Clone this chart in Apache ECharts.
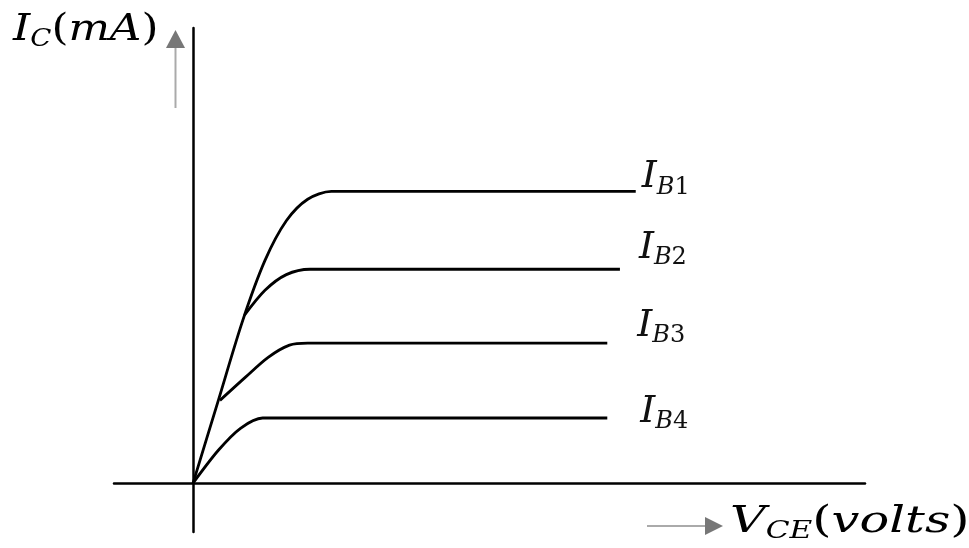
<!DOCTYPE html>
<html>
<head>
<meta charset="utf-8">
<script src="https://cdn.jsdelivr.net/npm/echarts@6/dist/echarts.min.js"></script>
<style>
  html, body { margin: 0; background: #fff; }
  #chart { width: 969px; height: 548px; }
</style>
</head>
<body>
<div id="chart"></div>
<script>
// output characteristics, points as [V_CE, I_C] (arbitrary units)
const ib1 = [[0, 0], [0.32, 1.69], [0.63, 3.33], [0.91, 4.55], [1.18, 5.36], [1.45, 5.80], [1.75, 5.96], [5.6, 5.96]];
const ib2 = [[0.65, 3.43], [0.91, 3.94], [1.18, 4.26], [1.48, 4.37], [5.4, 4.37]];
const ib3 = [[0.34, 1.69], [0.66, 2.16], [0.95, 2.57], [1.22, 2.82], [1.45, 2.86], [5.24, 2.86]];
const ib4 = [[0, 0], [0.32, 0.67], [0.60, 1.12], [0.88, 1.33], [5.24, 1.33]];
const curves = [ib1, ib2, ib3, ib4];
const subs = ['B', 'B', 'B', 'B'];
const nums = ['1', '2', '3', '4'];

// label nudges so the names sit like in the drawing
const labelOffsets = [[-2, -14], [11, -21], [22, -17], [25, -6]];

const font = 'DejaVu Serif';
const rich = {
  i: { fontFamily: font, fontStyle: 'italic', fontSize: 38, lineHeight: 44, color: '#111' },
  p: { fontFamily: font, fontSize: 38, lineHeight: 44, color: '#111' },
  s: { fontFamily: font, fontStyle: 'italic', fontSize: 24, lineHeight: 18, verticalAlign: 'bottom', color: '#111' },
  n: { fontFamily: font, fontSize: 24, lineHeight: 18, verticalAlign: 'bottom', color: '#111' }
};

const chart = echarts.init(document.getElementById('chart'));

const axisCommon = {
  type: 'value',
  axisLine: { onZero: true, lineStyle: { color: '#000', width: 2.5 } },
  axisTick: { show: false },
  axisLabel: { show: false },
  splitLine: { show: false }
};

chart.setOption({
  animation: false,
  grid: { left: 114, right: 104, top: 28, bottom: 16 },
  xAxis: Object.assign({ min: -1, max: 8.5 }, axisCommon),
  yAxis: Object.assign({ min: -1, max: 9.3 }, axisCommon),
  series: curves.map((d, k) => ({
    type: 'line',
    data: d,
    showSymbol: false,
    smooth: 0.3,
    silent: true,
    lineStyle: { color: '#000', width: 2.8 },
    endLabel: {
      show: true,
      formatter: '{i|I}{s|' + subs[k] + '}{n|' + nums[k] + '}',
      rich: rich,
      offset: labelOffsets[k]
    }
  })),
  graphic: [
    // up arrow beside I_C
    { type: 'line', shape: { x1: 175.5, y1: 108, x2: 175.5, y2: 46 }, style: { stroke: '#aaa', lineWidth: 2 } },
    { type: 'polygon', shape: { points: [[166, 48], [185, 48], [175.5, 30]] }, style: { fill: '#777' } },
    // right arrow before V_CE
    { type: 'line', shape: { x1: 647, y1: 526, x2: 706, y2: 526 }, style: { stroke: '#aaa', lineWidth: 2 } },
    { type: 'polygon', shape: { points: [[705, 517], [705, 535], [723, 526]] }, style: { fill: '#777' } },
    {
      type: 'text', x: 13, y: 30, scaleX: 1.15,
      style: { text: '{i|I}{s|C}{p|(}{i|mA}{p|)}', rich: rich, verticalAlign: 'middle' }
    },
    {
      type: 'text', x: 730, y: 522, scaleX: 1.3,
      style: { text: '{i|V}{s|CE}{p|(}{i|volts}{p|)}', rich: rich, verticalAlign: 'middle' }
    }
  ]
});
</script>
</body>
</html>
